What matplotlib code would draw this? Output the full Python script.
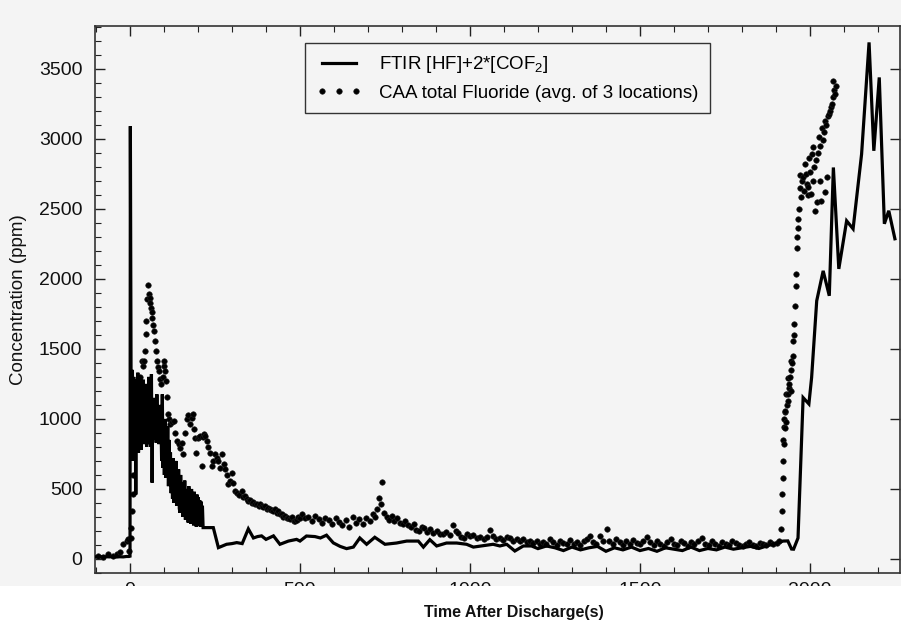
import matplotlib
matplotlib.use("Agg")
import matplotlib.pyplot as plt
from matplotlib.ticker import MultipleLocator
from matplotlib.patches import Rectangle

plt.rcParams['font.family'] = ['Liberation Sans', 'DejaVu Sans']
plt.rcParams['mathtext.fontset'] = 'custom'
plt.rcParams['mathtext.rm'] = 'Liberation Sans'
plt.rcParams['mathtext.it'] = 'Liberation Sans:italic'

# ---------------- data ----------------
# FTIR [HF]+2*[COF2]  (solid line)
ftir_t = [-103, -90, -80, -70, -60, -50, -40, -30, -20, -10, -3, 0,
          1, 3, 5, 7, 9, 11, 13, 15, 17, 19, 21, 23, 25, 27, 29, 31, 33, 35, 37, 39,
          41, 43, 45, 47, 49, 51, 53, 55, 57, 59, 61, 63, 65, 67, 69, 71, 73, 75, 77, 79,
          81, 83, 85, 87, 89, 91, 93, 95, 97, 99, 101, 103, 105, 107, 109, 111, 113, 115,
          117, 119, 121, 123, 125, 127, 129, 131, 133, 135, 137, 139, 141, 143, 145, 147,
          149, 151, 153, 155, 157, 159, 161, 163, 165, 167, 169, 171, 173, 175, 177, 179,
          181, 183, 185, 187, 189, 191, 193, 195, 197, 199, 201, 203, 205, 207, 209, 211,
          213, 215, 245, 260, 284, 300, 314, 330, 348, 363, 375, 387, 400, 422, 441, 466,
          490, 500, 519, 544, 560, 578, 598, 618, 637, 657, 676, 696, 720, 750, 784, 814,
          848, 863, 882, 902, 931, 961, 990, 1010, 1034, 1068, 1088, 1108, 1132, 1157,
          1181, 1200, 1225, 1250, 1275, 1300, 1325, 1350, 1375, 1400, 1425, 1450, 1475,
          1500, 1525, 1550, 1575, 1600, 1625, 1650, 1675, 1700, 1725, 1750, 1775, 1800,
          1825, 1850, 1875, 1900, 1921, 1935, 1946, 1952, 1965, 1980, 1997, 2005, 2020,
          2039, 2057, 2069, 2085, 2108, 2127, 2152, 2174, 2188, 2204, 2219, 2232, 2250]
ftir_v = [15, 18, 14, 16, 15, 17, 14, 16, 15, 18, 18, 20,
          3090, 1340, 780, 1350, 700, 1300, 820, 1280, 460, 1250, 800, 1330, 760, 1200,
          850, 1300, 780, 1150, 900, 1280, 820, 1100, 960, 1250, 800, 1200, 880, 1300,
          820, 1250, 800, 1320, 545, 1150, 850, 1100, 900, 1150, 830, 1176, 870, 1050,
          820, 1100, 860, 1000, 700, 1176, 650, 985, 600, 1000, 580, 900, 620, 950, 520,
          850, 560, 760, 470, 700, 430, 720, 400, 650, 450, 700, 380, 600, 420, 640, 360,
          330, 600, 400, 550, 300, 520, 330, 560, 280, 500, 320, 480, 260, 520, 300, 470,
          250, 500, 280, 450, 240, 480, 260, 430, 230, 460, 250, 440, 240, 420, 230, 410,
          240, 380, 224, 224, 81, 105, 110, 117, 110, 215, 150, 160, 165, 140, 165, 105,
          128, 140, 128, 164, 160, 150, 170, 115, 90, 74, 85, 150, 105, 155, 105, 114,
          128, 128, 85, 138, 93, 114, 114, 105, 85, 93, 105, 93, 105, 57, 93, 93, 74, 93,
          80, 60, 85, 65, 80, 90, 55, 80, 65, 85, 60, 75, 55, 80, 70, 60, 85, 60, 75, 65,
          85, 70, 80, 90, 75, 95, 110, 128, 129, 71, 70, 150, 1152, 1107, 1295, 1843,
          2057, 1879, 2795, 2071, 2414, 2357, 2890, 3688, 2914, 3438, 2393, 2486, 2286]

# CAA total Fluoride (avg. of 3 locations)  (dots)
caa_t = [-95, -80, -65, -50, -39, -30, -20, -10, -5, -2,
         2, 4, 5, 8, 10, 14, 18, 22, 26, 30, 34, 38, 42, 44, 46, 48, 51, 54, 56, 58,
         60, 62, 64, 66, 69, 72, 74, 76, 79, 82, 84, 88, 92, 96, 99, 101, 103, 106,
         110, 112, 115, 118, 123, 128, 133, 138, 143, 147, 152, 157, 162, 167, 172,
         177, 181, 184, 188, 191, 195, 199, 203, 206, 211, 214, 218, 221, 226, 230,
         234, 240, 244, 250, 255, 260, 265, 270, 275, 280, 284, 289, 294, 299, 304,
         309, 314, 320, 328, 333, 338, 343, 348, 353, 358, 363, 368, 373, 378, 383,
         387, 392, 397, 402, 406, 411, 416, 421, 426, 431, 436, 441, 446, 451, 456,
         461, 466, 471, 476, 481, 485, 490, 495, 500,
         505, 515, 525, 535, 545, 555, 565, 575, 585, 595, 605, 615, 625, 635, 645,
         655, 665, 675, 685, 695, 705, 715, 722, 728, 732, 737, 742, 748, 755, 762,
         770, 778, 786, 794, 802, 810, 818, 826, 834, 842, 850, 858, 866, 874, 882,
         892, 902, 912, 920, 930, 940, 951, 958, 966, 974, 982, 990, 1000, 1010, 1020,
         1030, 1040, 1050, 1059, 1068, 1078, 1088, 1098, 1108, 1118, 1128, 1138, 1147,
         1157, 1167, 1176, 1186, 1196, 1205, 1215, 1225, 1235, 1245, 1255, 1265, 1275,
         1285, 1295, 1305, 1315, 1325, 1335, 1345, 1353, 1362, 1372, 1382, 1392, 1402,
         1410, 1420, 1430, 1440, 1450, 1460, 1470, 1480, 1490, 1500, 1510, 1520, 1530,
         1540, 1550, 1560, 1570, 1580, 1590, 1600, 1610, 1620, 1630, 1640, 1650, 1660,
         1670, 1682, 1692, 1702, 1712, 1722, 1732, 1742, 1752, 1762, 1772, 1782, 1792,
         1802, 1812, 1822, 1832, 1842, 1852, 1862, 1872, 1882, 1892, 1902, 1910,
         1916, 1917, 1918, 1920, 1921, 1922, 1923, 1924, 1925, 1926, 1927, 1928, 1929,
         1931, 1933, 1935, 1936, 1937, 1938, 1939, 1941, 1943, 1944, 1945, 1947, 1949,
         1950, 1952, 1954, 1956, 1958, 1960, 1962, 1963, 1965, 1966, 1968, 1970, 1972,
         1975, 1977, 1980, 1983, 1985, 1988, 1990, 1993, 1995, 1997, 2000, 2003, 2005,
         2008, 2010, 2013, 2015, 2018, 2020, 2023, 2026, 2029, 2031, 2034, 2035, 2038,
         2041, 2044, 2045, 2048, 2050, 2053, 2055, 2058, 2061, 2064, 2067, 2069, 2072,
         2074, 2077]
caa_v = [20, 15, 35, 20, 35, 50, 105, 130, 140, 60,
         150, 224, 343, 462, 600, 800, 950, 1100, 1200, 1300, 1414, 1380, 1414, 1485,
         1605, 1700, 1857, 1957, 1890, 1860, 1830, 1790, 1760, 1720, 1668, 1630, 1557,
         1485, 1414, 1370, 1340, 1283, 1250, 1300, 1380, 1414, 1340, 1270, 1153, 1033,
         1000, 961, 980, 985, 900, 842, 820, 795, 830, 748, 900, 996, 1030, 961, 1010,
         1033, 930, 866, 760, 866, 870, 878, 665, 870, 890, 878, 842, 800, 760, 665, 700,
         750, 720, 700, 650, 747, 680, 640, 600, 533, 560, 617, 540, 486, 470, 460, 486,
         440, 450, 430, 414, 420, 400, 410, 390, 395, 380, 390, 378, 370, 375, 360, 367,
         355, 350, 345, 355, 330, 340, 320, 319, 300, 310, 290, 295, 285, 300, 270, 271,
         280, 300, 295,
         319, 290, 300, 270, 310, 285, 260, 295, 275, 250, 290, 265, 240, 280, 230, 300,
         260, 285, 250, 290, 270, 320, 300, 360, 436, 390, 550, 330, 300, 280, 310, 270,
         290, 260, 250, 270, 240, 230, 250, 210, 200, 230, 220, 195, 215, 188, 200, 180,
         175, 195, 170, 245, 200, 185, 160, 152, 175, 165, 170, 150, 160, 140, 155, 210,
         165, 140, 150, 135, 160, 150, 130, 145, 128, 140, 120, 128, 115, 130, 105, 120,
         110, 140, 120, 100, 130, 115, 105, 135, 110, 120, 100, 130, 140, 164, 120, 110,
         164, 125, 216, 130, 110, 140, 120, 100, 125, 110, 135, 115, 105, 130, 160, 120,
         100, 125, 110, 95, 120, 140, 110, 100, 125, 115, 95, 120, 105, 130, 150, 110,
         100, 125, 105, 95, 120, 110, 100, 125, 115, 100, 90, 110, 120, 100, 95, 115,
         105, 100, 120, 110, 115, 125,
         212, 343, 462, 581, 850, 700, 940, 819, 1000, 938, 1050, 1057, 980, 1176, 1100,
         1130, 1295, 1180, 1220, 1250, 1300, 1200, 1414, 1350, 1400, 1450, 1557, 1600,
         1676, 1807, 1950, 2033, 2222, 2300, 2365, 2430, 2500, 2743, 2650, 2581, 2700,
         2724, 2629, 2817, 2750, 2680, 2600, 2653, 2865, 2760, 2605, 2890, 2700, 2938,
         2800, 2486, 2850, 2545, 2900, 3010, 2950, 2700, 2557, 3080, 2990, 3050, 2617,
         3130, 3100, 2724, 3160, 3176, 3200, 3230, 3248, 3300, 3414, 3350, 3319, 3380]

x_ticks = [0, 500, 1000, 1500, 2000]
y_ticks = [0, 500, 1000, 1500, 2000, 2500, 3000, 3500]
label_ftir = 'FTIR [HF]+2*[COF$_2$]'
label_caa = 'CAA total Fluoride (avg. of 3 locations)'

# ---------------- figure ----------------
bg = '#f4f4f4'
fig = plt.figure(figsize=(9.01, 6.37), dpi=100, facecolor=bg)
ax = fig.add_axes([95 / 901, 64 / 637, 805 / 901, 547 / 637], facecolor=bg)

ax.plot(ftir_t, ftir_v, color='black', linewidth=2.3, solid_joinstyle='miter',
        label=label_ftir, zorder=3)
ax.plot(caa_t, caa_v, linestyle='none', marker='o', markersize=4.0,
        markerfacecolor='black', markeredgecolor='#222222', markeredgewidth=0.4,
        label=label_caa, zorder=2)

ax.set_xlim(-103, 2265)
ax.set_ylim(-100, 3805)
ax.set_xticks(x_ticks)
ax.set_yticks(y_ticks)
ax.xaxis.set_minor_locator(MultipleLocator(100))
ax.yaxis.set_minor_locator(MultipleLocator(100))
ax.tick_params(which='both', direction='in', top=True, right=True, colors='#222222',
               labelsize=14, labelcolor='#111111')
ax.tick_params(which='major', length=7, width=1.0)
ax.tick_params(which='minor', length=4, width=0.8, right=False)
ax.tick_params(axis='y', which='major', pad=9)
ax.tick_params(axis='x', which='major', pad=6.5)
for s in ax.spines.values():
    s.set_linewidth(1.2)
    s.set_color('#333333')

ax.set_ylabel('Concentration (ppm)', fontsize=13.5, color='#111111')
ax.yaxis.set_label_coords(-0.0845, 0.5)

leg = ax.legend(loc='upper left', bbox_to_anchor=(0.261, 0.969), fontsize=13.5,
                numpoints=3, handlelength=2.4, handletextpad=0.95,
                frameon=True, fancybox=False, borderpad=0.6, labelspacing=0.5,
                borderaxespad=0)
leg.get_frame().set_edgecolor('#333333')
leg.get_frame().set_linewidth(1.0)
leg.get_frame().set_facecolor(bg)
leg.get_frame().set_alpha(1)

# white lower band of the scanned page (cuts the tick labels like the original)
fig.add_artist(Rectangle((0, 0), 1, 51 / 637, transform=fig.transFigure,
                         facecolor='white', edgecolor='none', zorder=10))
fig.text(514 / 901, 1 - 612 / 637, 'Time After Discharge(s)', ha='center',
         va='center', fontsize=11.5, fontweight='bold', color='#111111', zorder=11)

fig.savefig('out.png', dpi=100, facecolor=fig.get_facecolor())
